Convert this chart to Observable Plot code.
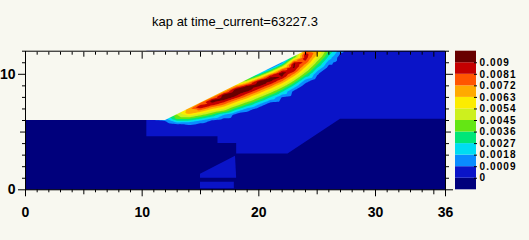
<!DOCTYPE html>
<html><head><meta charset="utf-8">
<script src="https://cdn.jsdelivr.net/npm/d3@7"></script>
<script src="https://cdn.jsdelivr.net/npm/@observablehq/plot@0.6"></script>
<style>
html,body{margin:0;padding:0;background:#f8f8f0;}
#wrap{position:relative;width:529px;height:240px;overflow:hidden;background:#f8f8f0;font-family:"Liberation Sans",Arial,sans-serif;}
#title{position:absolute;left:0;width:470px;top:15px;text-align:center;font-size:13px;line-height:13px;color:#000;}
#wrap svg{position:absolute;left:0;top:0;}
</style></head><body>
<div id="wrap"><div id="title"></div></div>
<script>
// ---- data ----
const title = "kap at time_current=63227.3";
const xDomain = [0, 36];
const yDomain = [0, 12];
const xTickLabels = [0, 10, 20, 30, 36];
const yTickLabels = [0, 10];
const levels = [0, 0.0009, 0.0018, 0.0027, 0.0036, 0.0045, 0.0054, 0.0063, 0.0072, 0.0081, 0.009];
const levelLabels = ["0", "0.0009", "0.0018", "0.0027", "0.0036", "0.0045", "0.0054", "0.0063", "0.0072", "0.0081", "0.009"];
const colors = ["#00007c", "#0a14c8", "#0a8cff", "#00dcf2", "#00e678", "#64e614", "#cdf01e", "#fcec00", "#ffaa00", "#ff5500", "#c40000", "#680000"];
const bg = "#f8f8f0";

// ground surface profile (above it: no domain)
const surfaceX = [0, 12, 24, 36];
const surfaceY = [6, 6, 12, 12];

// low-value (0 .. 0.0009) patches
const blueMainX = [10.4, 16.5, 16.5, 18.1, 18.1, 22.5, 27, 36];
const blueMainBottom = [4.6, 4.6, 4.0, 4.0, 3.1, 3.1, 6.1, 6.1];
const blueWedgeX = [15.0, 18.0, 18.1];
const blueWedgeBottom = [1.0, 1.0, 1.0];
const blueWedgeTop = [1.35, 2.9, 1.0];
const blueFootX = [15.0, 17.9];
const blueFootBottom = [0.1, 0.1];
const blueFootTop = [0.65, 0.65];

// kap samples in the band below the slope: columns x, depth below slope line
const bandX = [12, 13, 14, 15, 16, 17, 18, 19, 20, 21, 22, 23, 24, 25, 26, 27, 28];
const bandDepth = [0, 0.3, 0.6, 0.9, 1.2, 1.6, 2.0, 2.5, 3.0, 3.5];
const bandV = [
  [0.0010, 0.0004, 0.0003, 0.0003, 0.0003, 0.0003, 0.0003, 0.0003, 0.0003, 0.0003],
  [0.0045, 0.0041, 0.0022, 0.0004, 0.0003, 0.0003, 0.0003, 0.0003, 0.0003, 0.0003],
  [0.0068, 0.0072, 0.0053, 0.0034, 0.0015, 0.0003, 0.0003, 0.0003, 0.0003, 0.0003],
  [0.0072, 0.0090, 0.0072, 0.0054, 0.0036, 0.0012, 0.0003, 0.0003, 0.0003, 0.0003],
  [0.0070, 0.0095, 0.0086, 0.0068, 0.0052, 0.0030, 0.0008, 0.0003, 0.0003, 0.0003],
  [0.0068, 0.0094, 0.0096, 0.0082, 0.0068, 0.0048, 0.0018, 0.0003, 0.0003, 0.0003],
  [0.0065, 0.0092, 0.0098, 0.0090, 0.0074, 0.0054, 0.0032, 0.0006, 0.0003, 0.0003],
  [0.0040, 0.0072, 0.0097, 0.0094, 0.0080, 0.0062, 0.0040, 0.0015, 0.0003, 0.0003],
  [0.0025, 0.0058, 0.0092, 0.0096, 0.0084, 0.0066, 0.0046, 0.0022, 0.0004, 0.0003],
  [0.0016, 0.0048, 0.0082, 0.0097, 0.0088, 0.0070, 0.0050, 0.0026, 0.0006, 0.0003],
  [0.0015, 0.0044, 0.0076, 0.0095, 0.0090, 0.0072, 0.0052, 0.0028, 0.0008, 0.0003],
  [0.0035, 0.0068, 0.0092, 0.0092, 0.0084, 0.0066, 0.0048, 0.0025, 0.0006, 0.0003],
  [0.0072, 0.0088, 0.0086, 0.0080, 0.0068, 0.0054, 0.0038, 0.0016, 0.0003, 0.0003],
  [0.0060, 0.0066, 0.0066, 0.0060, 0.0050, 0.0038, 0.0025, 0.0010, 0.0003, 0.0003],
  [0.0040, 0.0042, 0.0041, 0.0037, 0.0031, 0.0022, 0.0012, 0.0003, 0.0003, 0.0003],
  [0.0018, 0.0019, 0.0018, 0.0016, 0.0014, 0.0010, 0.0004, 0.0003, 0.0003, 0.0003],
  [0.0003, 0.0003, 0.0003, 0.0004, 0.0005, 0.0006, 0.0006, 0.0003, 0.0003, 0.0003]
];
// background samples elsewhere in the domain
const bgX = [0, 0, 0, 6, 10, 12, 24, 36, 36, 36, 32];
const bgY = [0, 6, 12, 0, 6, 0, 0, 0, 6, 12, 12];
const bgV = [0.0003, 0.0003, 0.0003, 0.0003, 0.0003, 0.0003, 0.0003, 0.0003, 0.0003, 0.0003, 0.0003];

// ---- build tables ----
document.getElementById("title").textContent = title;
const slope = (surfaceY[2] - surfaceY[1]) / (surfaceX[2] - surfaceX[1]);
const slopeY = x => surfaceY[1] + (x - surfaceX[1]) * slope;
const samples = [];
bandX.forEach((x, i) => bandDepth.forEach((d, j) => samples.push({x, y: slopeY(x) - d, v: bandV[i][j]})));
bgX.forEach((x, i) => samples.push({x, y: bgY[i], v: bgV[i]}));

const surface = surfaceX.map((x, i) => ({x, y: surfaceY[i]}));
const blueMain = blueMainX.map((x, i) => ({x, y1: blueMainBottom[i]}));
const blueWedge = blueWedgeX.map((x, i) => ({x, y1: blueWedgeBottom[i], y2: blueWedgeTop[i]}));
const blueFoot = blueFootX.map((x, i) => ({x, y1: blueFootBottom[i], y2: blueFootTop[i]}));

const xAll = d3.range(xDomain[0], xDomain[1] + 1);
const yAll = d3.range(yDomain[0], yDomain[1] + 1);
const xT10 = xAll.filter(v => v % 10 === 0 || v === xDomain[1]);
const xT5 = xAll.filter(v => v % 5 === 0 && !xT10.includes(v));
const xT1 = xAll.filter(v => v % 5 !== 0 && !xT10.includes(v));
const yT10 = yAll.filter(v => v % 10 === 0);
const yT5 = yAll.filter(v => v % 5 === 0 && v % 10 !== 0);
const yT1 = yAll.filter(v => v % 5 !== 0);
const noText = () => "";

const W = 529, H = 240, MT = 50.7, MB = 50.7;
const main = Plot.plot({
  width: W, height: H,
  marginLeft: 25, marginRight: 84, marginTop: MT, marginBottom: MB,
  style: {background: "transparent", fontFamily: "'Liberation Sans', Arial, sans-serif", fontSize: "14px", fontWeight: "bold", color: "#000", overflow: "visible"},
  x: {domain: xDomain},
  y: {domain: yDomain},
  color: {type: "threshold", domain: levels, range: colors},
  marks: [
    Plot.frame({fill: colors[0]}),
    Plot.areaY(blueMain, {x: "x", y1: "y1", y2: yDomain[1], fill: () => levels[0]}),
    Plot.areaY(blueWedge, {x: "x", y1: "y1", y2: "y2", fill: () => levels[0]}),
    Plot.areaY(blueFoot, {x: "x", y1: "y1", y2: "y2", fill: () => levels[0]}),
    Plot.contour(samples, {x: "x", y: "y", fill: "v", interpolate: "barycentric", thresholds: levels.slice(1), pixelSize: 1, stroke: "none"}),
    Plot.areaY(surface, {x: "x", y1: "y", y2: yDomain[1], fill: bg}),
    Plot.frame({stroke: "#000"}),
    // bottom ticks (outward) and labels
    Plot.axisX(xT10, {anchor: "bottom", tickSize: 7, tickFormat: noText, label: null}),
    Plot.axisX(xT5, {anchor: "bottom", tickSize: 5, tickFormat: noText, label: null}),
    Plot.axisX(xT1, {anchor: "bottom", tickSize: 3, tickFormat: noText, label: null}),
    Plot.axisX(xTickLabels, {anchor: "bottom", tickSize: 0, tickPadding: 17, label: null}),
    // top ticks (hanging into the plot)
    Plot.axisX(xT10, {anchor: "top", tickSize: 7, dy: 7, tickFormat: noText, label: null}),
    Plot.axisX(xT5, {anchor: "top", tickSize: 5, dy: 5, tickFormat: noText, label: null}),
    Plot.axisX(xT1, {anchor: "top", tickSize: 3, dy: 3, tickFormat: noText, label: null}),
    // left ticks and labels
    Plot.axisY(yT10, {anchor: "left", tickSize: 7, tickFormat: noText, label: null}),
    Plot.axisY(yT5, {anchor: "left", tickSize: 5, tickFormat: noText, label: null}),
    Plot.axisY(yT1, {anchor: "left", tickSize: 3, tickFormat: noText, label: null}),
    Plot.axisY(yTickLabels, {anchor: "left", tickSize: 0, tickPadding: 10, label: null}),
    // right ticks
    Plot.axisY(yT10, {anchor: "right", tickSize: 7, tickFormat: noText, label: null}),
    Plot.axisY(yT5, {anchor: "right", tickSize: 5, tickFormat: noText, label: null}),
    Plot.axisY(yT1, {anchor: "right", tickSize: 3, tickFormat: noText, label: null})
  ]
});

// colour bar
const barIdx = d3.range(colors.length);
const barTicks = d3.range(1, colors.length);
const bar = Plot.plot({
  width: W, height: H,
  marginLeft: 455, marginRight: 53, marginTop: MT, marginBottom: MB,
  style: {background: "transparent", fontFamily: "'Liberation Sans', Arial, sans-serif", fontSize: "10px", fontWeight: "bold", letterSpacing: "1.1px", color: "#000", overflow: "visible"},
  x: {axis: null},
  y: {domain: [0, colors.length], axis: null},
  color: {type: "ordinal", domain: barIdx, range: colors},
  marks: [
    Plot.barY(barIdx, {y1: i => i, y2: i => i + 1, fill: i => i}),
    Plot.axisY(barTicks, {anchor: "right", tickSize: 3, dx: -3, tickFormat: noText, label: null}),
    Plot.axisY(barTicks, {anchor: "right", tickSize: 0, tickPadding: 3, tickFormat: i => levelLabels[i - 1], label: null})
  ]
});

const wrap = document.getElementById("wrap");
wrap.appendChild(main);
wrap.appendChild(bar);
</script>
</body></html>
